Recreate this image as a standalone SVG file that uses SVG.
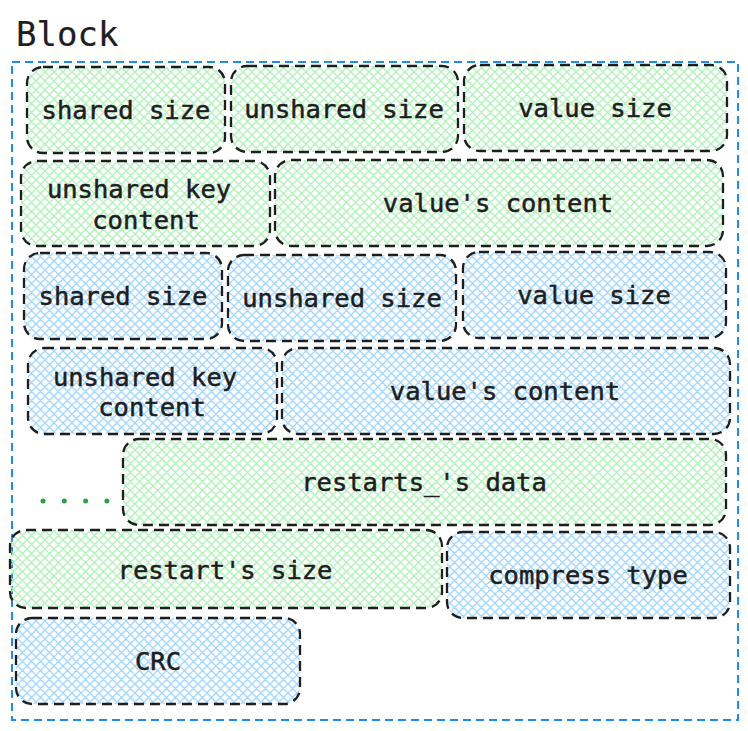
<svg xmlns="http://www.w3.org/2000/svg" width="748" height="731" viewBox="0 0 748 731">
<defs>
<pattern id="hg" width="9" height="9" patternUnits="userSpaceOnUse">
<path d="M-2,2 L2,-2 M0,9 L9,0 M7,11 L11,7 M-2,7 L2,11 M0,0 L9,9 M7,-2 L11,2" stroke="#b2f2bb" stroke-width="1.4"/>
</pattern>
<pattern id="hb" width="9" height="9" patternUnits="userSpaceOnUse">
<path d="M-2,2 L2,-2 M0,9 L9,0 M7,11 L11,7 M-2,7 L2,11 M0,0 L9,9 M7,-2 L11,2" stroke="#a5d8ff" stroke-width="1.4"/>
</pattern>
</defs>
<style>
.b{stroke:#1e1e1e;stroke-width:2.3;stroke-dasharray:10 6;}
.g{fill:url(#hg);}
.u{fill:url(#hb);}
text{font-family:"DejaVu Sans Mono","Liberation Mono",monospace;font-size:25.5px;fill:#1e1e1e;stroke:#1e1e1e;stroke-width:0.5;text-anchor:middle;dominant-baseline:central;}
</style>
<rect width="748" height="731" fill="#fff"/>
<text x="16" y="34" style="font-size:34px;text-anchor:start;stroke-width:0.2">Block</text>
<rect id="outer" x="12" y="62" width="726" height="658" fill="none" stroke="#228be6" stroke-width="2" stroke-dasharray="8 5"/>
<g id="n1"><rect class="b g" x="27" y="67" width="198" height="86" rx="16"/><text x="126" y="110">shared size</text></g>
<g id="n2"><rect class="b g" x="231" y="66" width="227" height="86" rx="16"/><text x="344" y="109">unshared size</text></g>
<g id="n3"><rect class="b g" x="464" y="65" width="263" height="86" rx="16"/><text x="595" y="108">value size</text></g>
<g id="n4"><rect class="b g" x="21" y="161" width="249" height="85" rx="16"/><text x="139" y="189">unshared key</text><text x="146" y="220">content</text></g>
<g id="n5"><rect class="b g" x="275" y="160" width="448" height="86" rx="16"/><text x="498" y="203">value's content</text></g>
<g id="n6"><rect class="b u" x="24" y="253" width="198" height="86" rx="16"/><text x="123" y="296">shared size</text></g>
<g id="n7"><rect class="b u" x="228" y="255" width="228" height="86" rx="16"/><text x="342" y="298">unshared size</text></g>
<g id="n8"><rect class="b u" x="463" y="252" width="263" height="86" rx="16"/><text x="594" y="295">value size</text></g>
<g id="n9"><rect class="b u" x="28" y="348" width="249" height="86" rx="16"/><text x="145" y="377">unshared key</text><text x="152" y="407">content</text></g>
<g id="n10"><rect class="b u" x="282" y="348" width="448" height="86" rx="16"/><text x="505" y="391">value's content</text></g>
<g id="n11"><rect class="b g" x="123" y="439" width="603" height="86" rx="16"/><text x="424" y="482">restarts_'s data</text></g>
<g id="n12"><rect class="b g" x="10" y="530" width="432" height="78" rx="16"/><text x="225" y="570">restart's size</text></g>
<g id="n13"><rect class="b u" x="447" y="532" width="283" height="86" rx="16"/><text x="588" y="575">compress type</text></g>
<g id="n14"><rect class="b u" x="16" y="618" width="284" height="86" rx="16"/><text x="158" y="661">CRC</text></g>
<g id="connectors">
<path d="M43,501 L110,501" stroke="#2f9e44" stroke-width="5" stroke-linecap="round" stroke-dasharray="0 21.3"/>
</g>
</svg>
